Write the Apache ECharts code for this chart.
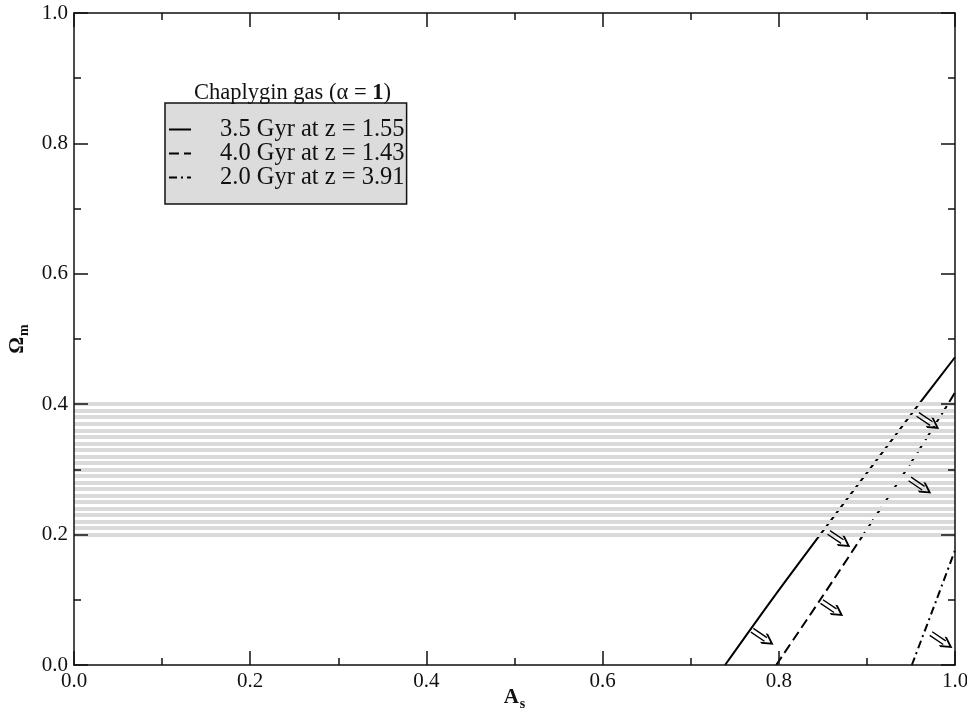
<!DOCTYPE html>
<html>
<head>
<meta charset="utf-8">
<script src="https://cdn.jsdelivr.net/npm/echarts@6/dist/echarts.min.js"></script>
<style>
  html, body { margin: 0; padding: 0; background: #fff; }
  #chart { width: 967px; height: 715px; }
</style>
</head>
<body>
<div id="chart"></div>
<script>
// curves: [A_s, Omega_m]
var solidCurve = [[0.739, 0], [0.792, 0.1], [0.847, 0.2], [0.903, 0.3], [0.959, 0.4], [1.0, 0.472]];
var dashedCurve = [[0.797, 0], [0.847, 0.1], [0.896, 0.2], [0.945, 0.3], [0.992, 0.4], [1.0, 0.418]];
var dashDotCurve = [[0.951, 0], [0.979, 0.1], [1.0, 0.176]];

// little open arrows pointing into the allowed region
var arrowPoints = [[0.781, 0.043], [0.860, 0.087], [0.868, 0.193], [0.960, 0.275], [0.969, 0.374], [0.984, 0.038]];

// grey hatch band 0.2 < Omega_m < 0.4
var hatchLevels = [0.20, 0.21, 0.22, 0.23, 0.24, 0.25, 0.26, 0.27, 0.28, 0.29, 0.30,
                   0.31, 0.32, 0.33, 0.34, 0.35, 0.36, 0.37, 0.38, 0.39, 0.40];

var seriesNames = ['3.5 Gyr at z = 1.55', '4.0 Gyr at z = 1.43', '2.0 Gyr at z = 3.91'];

var font = 'Liberation Serif';
var arrowPath = 'path://M0,3 L15,3 M0,7 L15,7 M13,0 L22,5 L13,10';

var chart = echarts.init(document.getElementById('chart'));

function axisBase(pos, withLabel) {
    return {
        type: 'value',
        position: pos,
        min: 0,
        max: 1,
        interval: 0.2,
        z: 10,
        axisLine: { show: true, onZero: false, lineStyle: { color: '#111', width: 1.5 } },
        axisTick: { show: true, inside: true, length: 14, lineStyle: { color: '#111', width: 1.5 } },
        minorTick: { show: true, splitNumber: 2, length: 7, lineStyle: { color: '#111', width: 1.5 } },
        splitLine: { show: false },
        axisLabel: {
            show: withLabel,
            color: '#111',
            fontFamily: font,
            fontSize: 21,
            margin: 6,
            formatter: function (v) { return v.toFixed(1); }
        }
    };
}

var nameRich = {
    a: { fontFamily: font, fontSize: 21, fontWeight: 'bold', color: '#111' },
    s: { fontFamily: font, fontSize: 14, fontWeight: 'bold', color: '#111', padding: [12, 0, 0, 1] }
};

var xMain = axisBase('bottom', true);
xMain.name = '{a|A}{s|s}';
xMain.nameLocation = 'middle';
xMain.nameGap = 20;
xMain.nameMoveOverlap = false;
xMain.nameTextStyle = { rich: nameRich };
var xTop = axisBase('top', false);

var yMain = axisBase('left', true);
yMain.name = '{a|Ω}{s|m}';
yMain.nameLocation = 'middle';
yMain.nameRotate = 90;
yMain.nameGap = 43;
yMain.nameMoveOverlap = false;
yMain.nameTextStyle = { rich: nameRich };
var yRight = axisBase('right', false);

var option = {
    backgroundColor: '#fff',
    animation: false,
    color: ['#000', '#000', '#000', '#d9d9d9', '#000'],
    grid: { left: 74, right: 12, top: 13, bottom: 50, outerBoundsMode: 'none', containLabel: false },
    title: {
        text: '{t|Chaplygin gas (α = }{b|1}{t|)}',
        left: 189,
        top: 77,
        textStyle: {
            rich: {
                t: { fontFamily: font, fontSize: 22.5, fontWeight: 'normal', color: '#111' },
                b: { fontFamily: font, fontSize: 22.5, fontWeight: 'bold', color: '#111' }
            }
        }
    },
    legend: {
        data: seriesNames,
        orient: 'vertical',
        left: 165,
        top: 103,
        backgroundColor: '#dcdcdc',
        borderColor: '#111',
        borderWidth: 1.5,
        borderRadius: 0,
        padding: [14, 2, 14, 3],
        itemWidth: 22,
        itemHeight: 14,
        itemGap: -1,
        selectedMode: false,
        itemStyle: { color: 'transparent', borderWidth: 0, opacity: 0 },
        textStyle: { fontFamily: font, fontSize: 24.5, color: '#111', lineHeight: 22, padding: [0, 0, 0, 24] }
    },
    xAxis: [xMain, xTop],
    yAxis: [yMain, yRight],
    series: [
        {
            name: seriesNames[0],
            type: 'line',
            data: solidCurve,
            smooth: 0.3,
            symbol: 'none',
            z: 2,
            lineStyle: { color: '#000', width: 2 }
        },
        {
            name: seriesNames[1],
            type: 'line',
            data: dashedCurve,
            smooth: 0.3,
            symbol: 'none',
            z: 2,
            lineStyle: { color: '#000', width: 2, type: [10, 5] }
        },
        {
            name: seriesNames[2],
            type: 'line',
            data: dashDotCurve,
            smooth: 0.3,
            symbol: 'none',
            z: 2,
            lineStyle: { color: '#000', width: 2, type: [8, 4, 2, 4] }
        },
        {
            // hatch drawn on top of the curves, like the original
            name: 'band',
            type: 'line',
            data: [],
            z: 4,
            markLine: {
                silent: true,
                symbol: 'none',
                z: 4,
                label: { show: false },
                lineStyle: { color: '#dadada', width: 4.2, type: 'solid' },
                data: hatchLevels.map(function (v) { return { yAxis: v }; })
            }
        },
        {
            name: 'arrows',
            type: 'scatter',
            data: arrowPoints,
            symbol: arrowPath,
            symbolSize: [24, 11],
            symbolRotate: -34,
            z: 6,
            itemStyle: { color: 'transparent', borderColor: '#000', borderWidth: 2, opacity: 1 }
        }
    ]
};

chart.setOption(option);
</script>
</body>
</html>
